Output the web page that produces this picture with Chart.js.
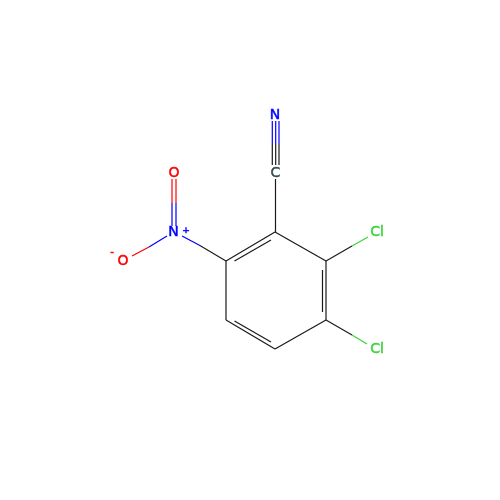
<!DOCTYPE html>
<html>
<head>
<meta charset="utf-8">
<style>
  html, body { margin: 0; padding: 0; background: #fff; }
  #myChart { display: block; }
</style>
<script src="https://cdn.jsdelivr.net/npm/chart.js@4"></script>
</head>
<body>
<canvas id="myChart" width="500" height="500"></canvas>
<script>
// bonds as [x1, y1, x2, y2], split up by colour
const blackBonds = [
  [275, 232, 326, 261],
  [326, 261, 326, 320],
  [326, 320, 275, 349],
  [275, 349, 226, 320],
  [226, 320, 226, 261],
  [226, 261, 275, 232],
  [234.5, 261, 271, 240],
  [322.5, 270, 322.5, 312],
  [234.5, 321, 271, 342],
  [275.5, 232, 275.5, 179],
  [272.3, 165, 272.3, 144],
  [275.7, 165, 275.7, 144],
  [279, 165, 279, 144],
  [326, 261, 352, 246],
  [326, 320, 352, 335],
  [226, 261, 199, 245]
];
const blueBonds = [
  [272.3, 144, 272.3, 121],
  [275.7, 144, 275.7, 121],
  [279, 144, 279, 121],
  [199, 245, 182, 236],
  [167, 236, 149, 247],
  [172, 226, 172, 203],
  [176, 226, 176, 203]
];
const redBonds = [
  [149, 247, 132, 256],
  [172, 203, 172, 179],
  [176, 203, 176, 179]
];
const greenBonds = [
  [352, 246, 368, 237],
  [352, 335, 367, 344]
];

// atom labels
const atomText = ['N', 'C', 'Cl', 'Cl', 'N', '+', 'O', 'O', '-'];
const atomX = [275, 275.5, 377, 377, 173.5, 186, 174, 123, 112];
const atomY = [115, 173, 232.5, 349.5, 232.5, 230.5, 173.5, 261.5, 252.5];
const atomSize = [14, 14, 14, 14, 14, 9, 14, 14, 10];
const atomColor = ['#0000ff', '#2f4f4f', '#3bd43b', '#3bd43b', '#0000ff', '#0000ff', '#ff0000', '#ff0000', '#ff0000'];

const toDataset = (bond, colour) => ({
  data: [{ x: bond[0], y: bond[1] }, { x: bond[2], y: bond[3] }],
  showLine: true,
  borderColor: colour,
  borderWidth: 1.2,
  pointRadius: 0
});

const atomLabels = {
  id: 'atomLabels',
  afterDatasetsDraw(chart) {
    const { ctx, scales } = chart;
    ctx.save();
    ctx.textAlign = 'center';
    ctx.textBaseline = 'middle';
    ctx.lineWidth = 0.5;
    atomText.forEach((t, i) => {
      const px = scales.x.getPixelForValue(atomX[i]);
      const py = scales.y.getPixelForValue(atomY[i]);
      ctx.font = atomSize[i] + 'px "DejaVu Sans"';
      ctx.fillStyle = atomColor[i];
      ctx.strokeStyle = atomColor[i];
      ctx.fillText(t, px, py);
      ctx.strokeText(t, px, py);
    });
    ctx.restore();
  }
};

new Chart(document.getElementById('myChart'), {
  type: 'scatter',
  data: {
    datasets: [
      ...blackBonds.map(b => toDataset(b, '#1a1a1a')),
      ...blueBonds.map(b => toDataset(b, '#0000ff')),
      ...redBonds.map(b => toDataset(b, '#ff0000')),
      ...greenBonds.map(b => toDataset(b, '#3bd43b'))
    ]
  },
  options: {
    responsive: false,
    animation: false,
    layout: { padding: 0 },
    plugins: { legend: { display: false }, tooltip: { enabled: false } },
    scales: {
      x: { display: false, min: 0, max: 500 },
      y: { display: false, min: 0, max: 500, reverse: true }
    }
  },
  plugins: [atomLabels]
});
</script>
</body>
</html>
